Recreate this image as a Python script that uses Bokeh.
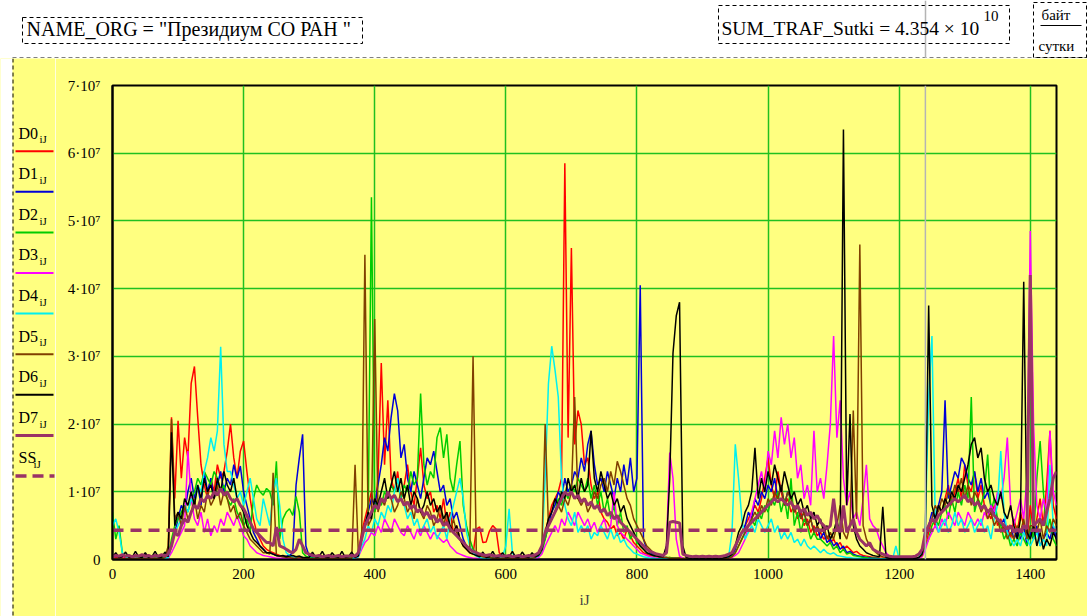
import numpy as np
from bokeh.plotting import figure
from bokeh.models import Range1d, FixedTicker, CustomJSTickFormatter, Label, Span
from bokeh.layouts import column, row
from bokeh.embed import file_html
from bokeh.resources import INLINE

# ---------------- data (values in 10^6 bytes, one sample every 5 iJ) ----------------
ij_step = 5
value_scale = 1e6

d0 = [0.5,0.3,0.4,0.2,0.3,0.5,0.3,0.2,0.4,0.3,0.2,0.3,0.5,0.3,0.2,0.4,0.3,0.6,21,9,20.5,12,18,15,
      26,28.5,21,14,11,9,12,10,14,12,13,16,20,15,12,16,17.5,13,9,6,4,3,2,1.5,
      1.2,1,0.8,0.6,0.5,0.4,0.6,0.3,0.4,0.5,0.3,0.2,0.2,0.3,0.2,0.1,0.2,0.3,0.2,0.1,0.2,0.2,0.3,0.2,
      0.3,0.2,0.4,1,4,6,8,10,7,12,29,14,23.5,12,10,13,9,11,14,10,8,12,16.5,11,
      9,10,7,8,6,9,5,7,4,5,3,2,1.5,1,0.8,4.5,4.8,2.5,2.6,4.2,5,4.5,1,0.5,
      0.4,0.3,0.4,0.3,0.2,0.4,0.3,0.3,0.5,0.6,1,2,4,6,8,9,10,12,58.5,18,46,17,22,20,
      14,15,11,9,10,7,6,5.5,4.5,5,3.5,4,3,4.5,3.5,2.5,2,1.5,1,0.8,0.6,0.5,0.4,0.3,
      0.3,0.2,0.3,0.2,0.2,0.3,0.2,0.1,0.1,0.2,0.1,0.1,0.1,0.2,0.1,0.1,0.1,0.2,0.1,0.3,0.5,1,2,3,
      4,5,6,7,8,7,9,12,15,11,9,13,10,8,9,7,8,6,7,5,6,4,5,3.5,
      4,3,3.5,2.5,3,2,2.5,1.5,2,1.5,1,1.2,0.8,0.6,0.5,0.4,0.3,0.3,0.2,0.2,0.2,0.1,0.1,0.1,
      0.1,0.1,0.1,0.1,0.1,0.2,0.3,0.5,2,4,6,5,8,7,9,11,8,10,12,9,14,11,10,13,
      9,11,8,7,6,8,5,6,4,5,3,6,4,7,5,3,8,4,6,9,5,11,19,8,
      6]

d1 = [0.2,0.1,0.2,0.1,0.1,0.2,0.1,0.1,0.2,0.1,0.1,0.2,0.1,0.1,0.2,0.1,0.2,0.3,2,4,6,8,7,10,
      12,9,11,8,13,10,12,9,11,13,10,12,11,14,12,13.8,10,8,6,4,3,2,1.5,1,
      1,0.8,0.6,0.5,0.4,0.5,0.6,1,11,15,18.5,2,0.5,0.3,0.2,0.2,0.1,0.2,0.1,0.1,0.2,0.1,0.1,0.2,
      0.2,0.2,0.3,0.5,3,5,7,9,8,11,14,18,16,21,24.5,22,15,17,12,10,13,11,9,12,
      15,14,16,13,10,11,8,9,6,7,5,3,2,1.5,1,0.8,0.6,0.5,0.4,0.3,0.3,0.2,0.2,0.2,
      0.2,0.1,0.2,0.1,0.2,0.1,0.2,0.2,0.3,0.4,0.8,2,3,5,7,8,10,9,12,10,11,13,12,15,
      13,17,19,14,11,12,10,13,11,9,12,10,14,11,15,10,12,40.5,3,1.5,1,0.8,0.5,0.4,
      0.3,0.3,0.2,0.2,0.2,0.1,0.1,0.1,0.1,0.1,0.1,0.1,0.1,0.1,0.1,0.1,0.1,0.1,0.1,0.2,0.3,0.6,1.5,3,
      4,5,7,6,9,8,10,9,11,10,12,9,11,8,10,9,7,8,6,7,5,6,4,5,
      3,4,2.5,3,2,2.5,1.5,2,1,1.2,0.8,0.6,0.5,0.4,0.3,0.3,0.2,0.2,0.1,0.1,0.1,0.1,0.1,0.1,
      0.1,0.1,0.1,0.1,0.1,0.2,0.3,0.6,3,5,7,6,8,10,23.5,9,11,13,12,15,14,12,11,13,
      10,12,9,10,8,7,6,5,6,4,5,3,4,3,5,2,4,3,5,2,3,4,3,5,
      3]

d2 = [7,3,5,1,0.5,0.3,0.2,0.3,0.2,0.3,0.2,0.2,0.3,0.2,0.3,0.2,0.3,0.4,3,5,6,7,8,7,
      9,10,12,11,13,12,11,13,12,10,11,9,8,9,7,6,5,6,4,9,11,10,9.5,10.5,
      10,8,14.5,3,6,7,7.5,6.5,9.3,7,1,0.5,0.3,0.2,0.3,0.2,0.2,0.3,0.2,0.2,0.3,0.2,0.2,0.3,
      0.2,0.3,0.5,1,3,5,6,53.5,7,9,8,10,9,11,10,12,9,11,10,13,11,12,24.5,14,
      11,13,12,18,19.5,15,18.5,12,10,14,17.5,8,5,3,1.5,1,0.6,0.4,0.3,0.3,0.2,0.2,0.2,0.2,
      0.2,0.2,0.3,0.2,0.2,0.3,0.2,0.2,0.3,0.4,0.6,1,3,5,6,7,9,8,10,9,11,10,12,11,
      10,12,9,11,8,10,7,9,6,8,5,7,4,5,3,4,2.5,2,1.5,1,0.8,0.6,0.5,0.4,
      0.3,0.3,0.3,0.2,0.2,0.2,0.2,0.1,0.1,0.1,0.1,0.1,0.1,0.1,0.1,0.1,0.1,0.1,0.1,0.2,0.3,0.5,1,2,
      3,4,5,6,5,7,6,8,7,9,8,10,7,9,6,12,5,7,4,6,5,3,4,3,
      3,2.5,2,2.5,1.5,2,1,1.5,0.8,1,0.6,0.5,0.4,0.3,0.3,0.2,0.2,0.2,0.1,0.1,0.1,0.1,0.1,0.1,
      0.1,0.1,0.1,0.1,0.1,0.2,0.3,0.5,2,3,5,6,5,7,8,6,9,7,10,8,11,9,24,7,
      9,8,10,15.5,7,9,6,5,3,4,2,3,2,4,3,2,5,3,12,17.5,10,4,6,3,
      2]

d3 = [0.2,0.1,0.1,0.2,0.1,0.1,0.1,0.2,0.1,0.1,0.2,0.1,0.1,0.1,0.2,0.1,0.1,0.2,1,2,3,4,5,16,
      9,6,5,7,4,6,3.5,5,4,6,5,7,6,5,6.5,5,3.5,3,2,1.5,1,0.8,0.6,0.5,
      0.4,0.3,0.2,0.2,0.2,0.1,0.1,0.1,0.1,0.2,0.1,0.1,0.1,0.1,0.1,0.1,0.1,0.1,0.1,0.1,0.1,0.1,0.1,0.1,
      0.1,0.1,0.2,0.4,1.5,2.5,3,4,3.5,5,4,6,5,4,6,5,4,3.5,5,4,3,4.5,3.5,5,
      4,3,4,3.5,3,2.5,3,2,1.5,1,0.8,0.6,0.4,0.3,0.2,0.2,0.1,0.1,0.1,0.1,0.1,0.1,0.1,0.1,
      0.1,0.1,0.1,0.1,0.1,0.1,0.1,0.1,0.1,0.1,0.3,0.8,2,3,4,5,4,6,5,7,6,5,7,6,
      5,6,4.5,5.5,4,5,6,4,5,10,5,4,3.5,3,2.5,2,1.5,1,0.8,0.6,0.4,0.3,0.2,0.2,
      0.2,2,15.8,12,3,0.5,0.2,0.1,0.1,0.1,0.1,0.1,0.1,0.1,0.1,0.1,0.1,0.1,0.1,0.1,0.2,0.3,0.6,1,
      2,3,5,7,9,11,13,10,16,14,19,15,21,17,20,15,18,12,14,9,11,8,19,10,
      12,9,14,20,33,18,23.5,12,8,10,6,7,5,9,14,6,5,4.5,3,2,1,0.5,0.3,0.2,
      0.1,0.1,0.1,0.1,0.1,0.1,0.2,0.4,1.5,3,4,5,4,6,5,7,6,5,7,6,5,7,6,5,
      6,5,7,6,8,7,10,9,12,18,8,5,7,9,6,12,48.5,20,8,6,9,7,19,10,
      8]

d4 = [5,6,4,1,0.4,0.2,0.1,0.1,0.2,0.1,0.1,0.2,0.1,0.1,0.2,0.1,0.1,0.3,2,4,5,6,8,7,
      9,8,11,10,13,15,18,16,19,31.4,17,13,13,11,9,10,8,10,12,9,6,5,9,7,
      5,10,12,8,3,1,0.6,0.4,0.3,0.5,0.3,0.2,0.1,0.1,0.1,0.1,0.1,0.1,0.1,0.1,0.1,0.1,0.1,0.1,
      0.1,0.1,0.2,0.4,2,3,5,4,6,5,7,6,8,7,10,12,9,8,6,7,5,6,4,5,
      6,4,5,3,4,5,3,6,8,10,12,9,4,2,1,0.5,0.3,0.2,0.2,0.1,0.1,0.1,0.2,0.5,
      2,7.5,1,0.3,0.2,0.1,0.1,0.2,0.2,0.3,0.5,2,12,26,31.5,28,24,12,8,6,5,7,4,5,
      4,5,3,4,3.5,5,4,3,4.5,3,4,2.5,3,2,1.5,1,0.8,0.6,0.4,0.3,0.2,0.2,0.1,0.1,
      0.1,0.1,0.1,0.1,0.1,0.1,0.1,0.1,0.1,0.1,0.1,0.1,0.1,0.1,0.1,0.1,0.1,0.1,0.1,0.1,0.5,4,17,12,
      6,3,4,5,4,6,5,4,5,6,4,5,3,4,3,4,2.5,3,2,3,2,1.5,2,1.5,
      1,1.5,1,0.8,1,0.6,0.5,0.4,0.3,0.3,0.2,0.2,0.2,0.1,0.1,0.1,0.1,0.1,0.1,0.1,0.1,0.1,0.1,2,
      0.1,0.1,0.1,0.1,0.1,0.2,0.3,1,5,24,33,6,4,5,6,4,5,7,5,6,4,5,6,4,
      5,6,4,5,3,6,8,16,7,4,3,2,3,2,4,3,2,3,4,2,3,2,14,5,
      4]

d5 = [0.2,0.1,0.2,0.1,0.1,0.2,0.1,0.1,0.2,0.1,0.1,0.2,0.1,0.1,0.2,0.1,0.3,2,20.7,6,7,5,8,6,
      7,9,6,8,7,10,8,9,11,8,10,9,7,8,6,7,5,4,3,2.5,2,1.5,1,1,
      0.8,12.8,0.6,0.5,0.4,0.3,0.3,0.2,0.2,0.3,0.2,0.2,0.1,0.1,0.1,0.1,0.1,0.1,0.1,0.1,0.1,0.1,0.1,0.1,
      0.1,0.2,14,1,3,45,5,6,35.5,7,9,8,10,9,7,8,10,9,7,8,6,9,7,6,
      8,7,5,6,8,5,7,4,6,4,3,2.5,2,1.5,30,1,0.5,0.4,0.3,0.3,0.2,0.2,0.2,0.2,
      0.2,0.1,0.1,0.2,0.1,0.1,0.2,0.1,0.2,0.3,1,2,20,5,6,7,8,7,9,8,10,24,9,8,
      9,7,8,10,9,11,12,10,13,11,14.5,13,11,9,8,6,5,4,3,2,1.5,1,0.6,0.4,
      0.3,0.3,0.2,0.2,0.2,0.2,0.1,0.1,0.1,0.1,0.1,0.1,0.1,0.1,0.1,0.1,0.1,0.1,0.1,0.1,0.2,0.4,1,2,
      3,4,5,6,7,6,8,7,9,8,10,9,11,8,10,9,7,8,6,7,5,6,4,5,
      4,5,3,4,3,5,8,4,3,5,22,6,46.5,5,3,2,1.5,1,0.6,0.4,0.3,0.2,0.1,0.1,
      0.1,0.1,0.1,0.1,0.1,0.2,0.3,0.6,3,5,6,8,7,9,8,10,9,11,10,12,9,11,8,10,
      9,7,8,6,7,5,6,4,5,3,4,3,5,4,6,3,5,5,4,6,3,5,4,6,
      5]

d6 = [0.3,1.0,0.3,0.4,1.1,0.3,0.3,1.2,0.4,0.3,1.0,0.3,0.4,1.2,0.3,0.3,1.1,0.4,18.8,5,7,6,9,8,
      10,8,11,9,12,10,11,9,12,10,13,11,10,12,9,8,7,5,4,3,2.5,2,1.5,1,
      1,0.8,0.6,0.5,0.6,0.4,0.5,0.6,0.4,0.5,0.3,0.3,0.3,1.1,0.3,0.4,1.2,0.3,0.3,1.0,0.4,0.3,1.2,0.3,
      0.4,1.1,0.3,0.5,3,5,7,6,9,8,10,12,9,11,13,10,12,9,11,8,10,9,7,8,
      10,8,9,7,8,6,7,5,4,5,3,2,1.5,1,0.8,0.6,0.4,1.1,0.3,0.4,1.2,0.3,0.4,1.0,
      0.3,0.4,1.2,0.3,0.3,1.1,0.4,0.3,1.0,0.4,0.6,1.5,4,6,7,9,8,10,9,12,10,11,9,12,
      10,11,19,12,10,13,11,9,10,8,9,7,8,6,5,4,3,2,1.5,1,0.8,0.6,0.5,0.4,
      0.4,2,12,30.5,36,38,2,0.3,0.2,0.2,0.2,0.2,0.2,0.2,0.2,0.2,0.2,0.2,0.2,0.3,0.4,0.8,2,4,
      5,7,8,10,16.5,9,12,10,13,11,14,12,10,13,11,9,10,8,9,7,8,6,7,5,
      6,4,5,3,4,6,3,63.5,8,21.5,5,3,2,1.5,1,0.8,0.6,0.5,0.4,7.8,0.3,0.2,0.2,0.2,
      0.2,0.2,0.2,0.2,0.2,0.2,0.3,0.8,4,37.5,8,6,8,7,9,8,10,9,11,10,12,14,17,18,
      15,16.5,12,10,11,9,8,10,7,6,8,5,3,6,41,4,3,5,2,4,1.5,3,2,4,
      3]

d7 = [0.4,0.6,0.5,0.7,0.5,0.6,0.4,0.6,0.5,0.7,0.5,0.6,0.4,0.6,0.5,0.7,0.5,0.8,2,4,3.5,5,6,5.5,
      7,8,7.5,9,8.5,9.5,9,10,9.5,10.5,9.5,10,9,8.5,9,8,7.5,6.5,5.5,4.5,4,3.5,3,2.5,
      2.5,2,4.8,2,1.8,1.5,1.2,1,1.5,3,2,1,0.8,0.6,0.5,0.6,0.4,0.5,0.6,0.4,0.5,0.6,0.4,0.5,
      0.5,0.6,0.5,1,3,5,6,7,8,7.5,9,8.5,10,9,9.5,8.5,9,8,8.5,7.5,8,7,7.5,6.5,
      7,6,6.5,5.5,6,5,5.5,4.5,4,3.5,3,2.5,2,1.5,1.2,1,0.8,0.7,0.6,0.7,0.6,0.5,0.6,0.5,
      0.5,0.6,0.4,0.5,0.6,0.4,0.5,0.6,0.5,0.7,1,2,4,5,6,7,8,9,10,9.5,10,9,9.5,8.5,
      9,8,8.5,7.5,8,7,7.5,6.5,7,6,6.5,5.5,5,4.5,4,3.5,3,2.5,2,1.5,1.2,1,0.8,0.7,
      0.6,1,5.5,5.6,5.5,5.4,0.8,0.6,0.5,0.4,0.5,0.4,0.5,0.4,0.5,0.4,0.5,0.4,0.5,0.6,0.8,1,2,3,
      4,4.5,5,5.5,6,6.5,7,7.5,8,8.5,9,8.5,9,8.5,8,8.5,7.5,8,7,7.5,6.5,7,6,6.5,
      5.5,5,4.5,5,9,5,4,8,4,5,6,4,3,2.5,2,2.5,1.5,1.2,1,0.8,0.6,0.5,0.4,0.4,
      0.4,0.4,0.4,0.4,0.4,0.5,0.8,1.5,4,5,6,5.5,6.5,7,7.5,8,8.5,9,8.5,9,9.5,8.5,9,8,
      8.5,7.5,8,7,7.5,6.5,6,5.5,5,4.5,5,4,4.5,4,5,4.5,42,5,5.5,6,5,7,9,12,
      13]

ss_value = 4.32  # SS_iJ, 10^6 bytes (constant)

series_names = ["D0", "D1", "D2", "D3", "D4", "D5", "D6", "D7"]
x_ticks = [0, 200, 400, 600, 800, 1000, 1200, 1400]
y_ticks = [0, 1e7, 2e7, 3e7, 4e7, 5e7, 6e7, 7e7]
name_org_text = 'NAME_ORG = "Президиум СО РАН "'
sum_traf_text = "SUM_TRAF_Sutki = 4.354 × 10"
sum_traf_exp = "10"
unit_num = "байт"
unit_den = "сутки"
x_label = "iJ"
cursor_ij = 1240  # position of the grey cursor line

# ---------------- styling ----------------
YELLOW = "#ffff80"
GRID = "#20c020"
FONT = "Liberation Serif"
colors = ["#ff0000", "#0000d8", "#00cc00", "#ff00ff", "#00f0f0", "#804000", "#000000", "#993366"]
widths = [1.5, 1.5, 1.5, 1.5, 1.5, 1.5, 1.5, 3.0]
SS_COLOR = "#993366"
CURSOR = "#b4b4b4"

series = [d0, d1, d2, d3, d4, d5, d6, d7]
for s in series:
    assert len(s) == len(d0), [len(t) for t in series]
x = np.arange(len(d0)) * ij_step


def no_align(fig):
    try:
        fig.frame_align = False
    except Exception:
        pass


def plain_fig(w, h, x0, x1, y0, y1, bg):
    f = figure(width=w, height=h, x_range=Range1d(x0, x1), y_range=Range1d(y1, y0),
               x_axis_type=None, y_axis_type=None, toolbar_location=None, output_backend="svg",
               min_border=0, min_border_left=0, min_border_right=0, min_border_top=0,
               min_border_bottom=0, background_fill_color=bg, border_fill_color=bg,
               outline_line_color=None)
    f.grid.visible = False
    no_align(f)
    return f


def put_text(fig, xx, baseline, txt, size):
    # Label anchors the text box around y; shift so that the text baseline lands on `baseline`
    fig.add_layout(Label(x=xx, y=baseline - 0.35 * size, text=txt, text_font=FONT,
                         text_font_size=f"{size}px", text_baseline="alphabetic",
                         text_color="black"))


# ---------------- top strip (white), pixel coordinates of the page ----------------
top = plain_fig(1087, 58, 0, 1087, 0, 58, "white")
top.quad(left=[22, 718, 1033], right=[362, 1009, 1086], top=[17, 5, 2], bottom=[43, 43, 57],
         fill_color="white", line_color="black", line_dash="4 3", line_width=1)
top.segment(x0=[12], y0=[57.5], x1=[1087], y1=[57.5], line_color="black", line_dash="4 3", line_width=1)
top.segment(x0=[1040], y0=[25], x1=[1081], y1=[25], line_color="black", line_width=1)
top.segment(x0=[925], y0=[0], x1=[925], y1=[58], line_color=CURSOR, line_width=1.5)
put_text(top, 26, 35, name_org_text, 20)
put_text(top, 721, 35, sum_traf_text, 19.5)
put_text(top, 983, 21, sum_traf_exp, 15)
put_text(top, 1041, 20, unit_num, 15)
put_text(top, 1038, 51, unit_den, 15)

# ---------------- legend strip (left), pixel coordinates of the page ----------------
leg = plain_fig(55, 558, 0, 55, 58, 616, YELLOW)
leg.quad(left=[0], right=[12], top=[58], bottom=[616], fill_color="white", line_color=None)
leg.segment(x0=[12.5], y0=[58], x1=[12.5], y1=[616], line_color="black", line_dash="4 3", line_width=1)
names = series_names + ["SS"]
for k, nm in enumerate(names):
    ly = 150.7 + 40.6 * k
    put_text(leg, 18, ly - 12.5, nm, 16)
    put_text(leg, 39 if nm != "SS" else 33, ly - 8, "iJ", 11)
    if nm == "SS":
        leg.segment(x0=[15], y0=[ly], x1=[54], y1=[ly], line_color=SS_COLOR, line_width=3.5,
                    line_dash="11 6")
    else:
        leg.segment(x0=[15], y0=[ly], x1=[53], y1=[ly], line_color=colors[k],
                    line_width=3 if nm == "D7" else 2)

# ---------------- main chart ----------------
p = figure(width=1032, height=558, x_range=Range1d(0, 1440), y_range=Range1d(0, 7e7),
           toolbar_location=None, output_backend="svg",
           min_border_left=57, min_border_right=31, min_border_top=27, min_border_bottom=57,
           background_fill_color=YELLOW, border_fill_color=YELLOW)
no_align(p)

for s, c, w in zip(series, colors, widths):
    p.line(x, np.array(s) * value_scale, line_color=c, line_width=w)
p.line(x, np.full(len(x), ss_value * value_scale), line_color=SS_COLOR, line_width=3.5, line_dash="11 7")

p.xaxis.ticker = FixedTicker(ticks=x_ticks)
p.yaxis.ticker = FixedTicker(ticks=y_ticks)
p.xgrid.ticker = FixedTicker(ticks=x_ticks)
p.ygrid.ticker = FixedTicker(ticks=y_ticks)
p.yaxis.formatter = CustomJSTickFormatter(code="return tick == 0 ? '0' : Math.round(tick/1e7) + '·10⁷';")
for g in (p.xgrid, p.ygrid):
    g.grid_line_color = GRID
    g.grid_line_width = 1.5
for ax in (p.xaxis, p.yaxis):
    ax.axis_line_color = "black"
    ax.axis_line_width = 2
    ax.major_tick_line_color = None
    ax.minor_tick_line_color = None
    ax.major_tick_out = 0
    ax.major_tick_in = 0
    ax.minor_tick_out = 0
    ax.major_label_text_font = FONT
    ax.major_label_text_font_size = "15px"
    ax.major_label_text_color = "black"
p.xaxis.major_label_standoff = 9
p.yaxis.major_label_standoff = 12
p.xaxis.axis_label = x_label
p.xaxis.axis_label_text_font = FONT
p.xaxis.axis_label_text_font_style = "normal"
p.xaxis.axis_label_text_font_size = "15px"
p.xaxis.axis_label_standoff = 10
p.outline_line_color = "black"
p.outline_line_width = 2
p.add_layout(Span(location=cursor_ij, dimension="height", line_color=CURSOR, line_width=1.5))

layout = column(top, row(leg, p, spacing=0), spacing=0)
open("out.html", "w").write(file_html(layout, INLINE))
